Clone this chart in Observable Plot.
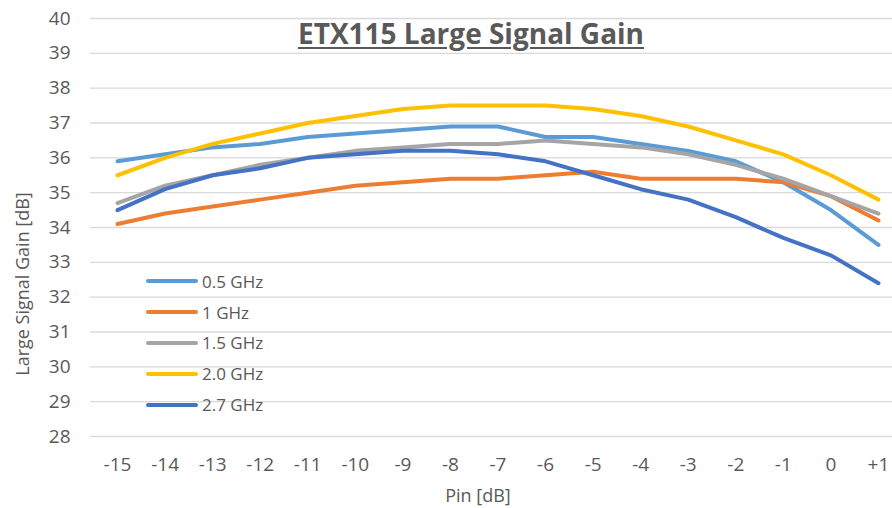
<!DOCTYPE html>
<html>
<head>
<meta charset="utf-8">
<script src="https://cdn.jsdelivr.net/npm/d3@7"></script>
<script src="https://cdn.jsdelivr.net/npm/@observablehq/plot@0.6"></script>
<style>
  html, body { margin: 0; padding: 0; background: #fff; }
  #wrap { position: relative; width: 892px; height: 508px; font-family: "Open Sans", sans-serif; color: #595959; }
  #title { position: absolute; left: 471px; top: 33px; transform: translate(-50%, -50%); font-size: 28px; font-weight: bold; text-decoration: underline; text-decoration-thickness: 2px; text-underline-offset: 3px; white-space: nowrap; }
  #ylabel { position: absolute; left: 22px; top: 284px; transform: translate(-50%, -50%) rotate(-90deg); font-size: 18px; white-space: nowrap; }
  #xlabel { position: absolute; left: 478px; top: 495px; transform: translate(-50%, -50%); font-size: 18px; white-space: nowrap; }
  #legend { position: absolute; left: 146px; top: 266px; font-size: 17px; }
  .li { display: flex; align-items: center; height: 30.8px; }
  .sw { width: 52px; height: 4px; border-radius: 2px; margin-right: 4px; }
</style>
</head>
<body>
<div id="wrap">
  <div id="chart"></div>
  <div id="title">ETX115 Large Signal Gain</div>
  <div id="ylabel">Large Signal Gain [dB]</div>
  <div id="xlabel">Pin [dB]</div>
  <div id="legend"></div>
</div>
<script>
const pin = [-15, -14, -13, -12, -11, -10, -9, -8, -7, -6, -5, -4, -3, -2, -1, 0, 1];
const pinLabels = ["-15", "-14", "-13", "-12", "-11", "-10", "-9", "-8", "-7", "-6", "-5", "-4", "-3", "-2", "-1", "0", "+1"];
const yTicks = [28, 29, 30, 31, 32, 33, 34, 35, 36, 37, 38, 39, 40];
const seriesNames = ["0.5 GHz", "1 GHz", "1.5 GHz", "2.0 GHz", "2.7 GHz"];
const seriesColors = ["#5B9BD5", "#ED7D31", "#A5A5A5", "#FFC000", "#4472C4"];
const gain05 = [35.9, 36.1, 36.3, 36.4, 36.6, 36.7, 36.8, 36.9, 36.9, 36.6, 36.6, 36.4, 36.2, 35.9, 35.3, 34.5, 33.5];
const gain10 = [34.1, 34.4, 34.6, 34.8, 35.0, 35.2, 35.3, 35.4, 35.4, 35.5, 35.6, 35.4, 35.4, 35.4, 35.3, 34.9, 34.2];
const gain15 = [34.7, 35.2, 35.5, 35.8, 36.0, 36.2, 36.3, 36.4, 36.4, 36.5, 36.4, 36.3, 36.1, 35.8, 35.4, 34.9, 34.4];
const gain20 = [35.5, 36.0, 36.4, 36.7, 37.0, 37.2, 37.4, 37.5, 37.5, 37.5, 37.4, 37.2, 36.9, 36.5, 36.1, 35.5, 34.8];
const gain27 = [34.5, 35.1, 35.5, 35.7, 36.0, 36.1, 36.2, 36.2, 36.1, 35.9, 35.5, 35.1, 34.8, 34.3, 33.7, 33.2, 32.4];

const allGains = [gain05, gain10, gain15, gain20, gain27];
const rows = [];
allGains.forEach((arr, s) => arr.forEach((v, i) => rows.push({series: seriesNames[s], pin: pin[i], gain: v})));

const font = '"Open Sans", sans-serif';

const chart = Plot.plot({
  width: 892,
  height: 508,
  marginLeft: 90,
  marginRight: 0,
  marginTop: 18,
  marginBottom: 72,
  style: {fontFamily: font, fontSize: "18px", color: "#595959", background: "#fff", overflow: "visible"},
  x: {domain: [-15.568, 1.295]},
  y: {domain: [28, 40]},
  color: {domain: seriesNames, range: seriesColors},
  marks: [
    Plot.gridY(yTicks, {stroke: "#d9d9d9", strokeOpacity: 1, strokeWidth: 1.4}),
    Plot.axisY(yTicks, {tickSize: 0, tickPadding: 20, label: null, fill: "#595959", fontSize: 19}),
    Plot.axisX(pin, {tickSize: 0, tickPadding: 21, label: null, fill: "#595959", fontSize: 19, tickFormat: d => pinLabels[pin.indexOf(d)]}),
    Plot.line(rows, {x: "pin", y: "gain", z: "series", stroke: "series", strokeWidth: 4, strokeLinejoin: "round", strokeLinecap: "round"})
  ]
});
document.getElementById("chart").appendChild(chart);

const legend = d3.select("#legend");
seriesNames.forEach((name, i) => {
  const item = legend.append("div").attr("class", "li");
  item.append("div").attr("class", "sw").style("background", seriesColors[i]);
  item.append("span").text(name);
});
</script>
</body>
</html>
